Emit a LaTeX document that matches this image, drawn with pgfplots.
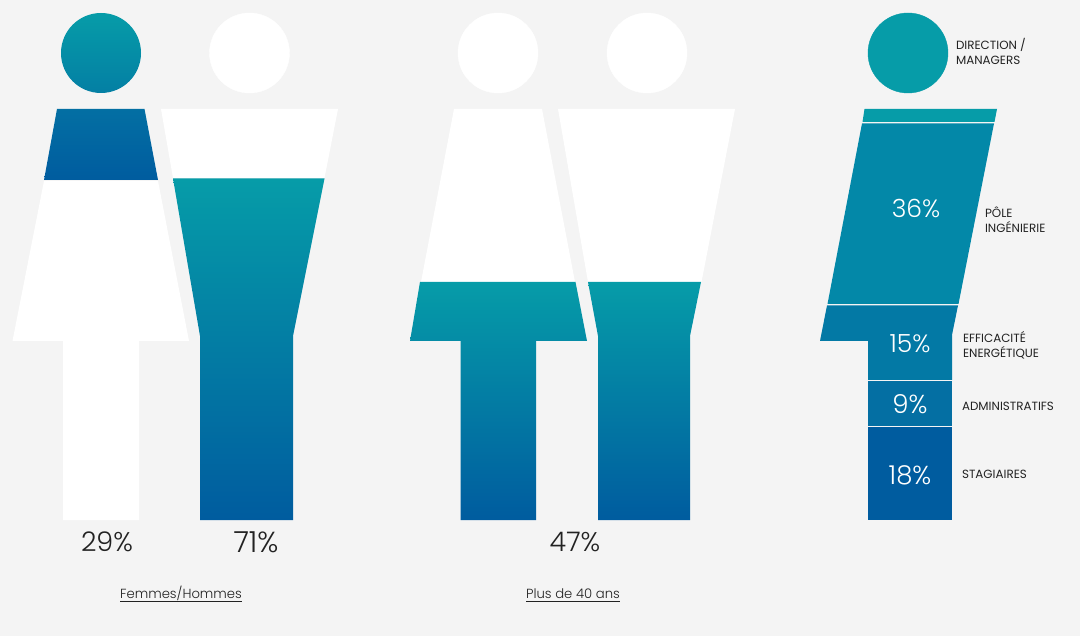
\documentclass[border=0pt]{standalone}
\usepackage{pgfplots}
\pgfplotsset{compat=1.18}
\usepackage{fontspec}
\setmainfont{Poppins}
\newfontfamily\lightf{Poppins Light}
\definecolor{bg}{HTML}{F4F4F4}
\definecolor{tealtop}{HTML}{069CA8}
\definecolor{midhead}{HTML}{047FA4}
\definecolor{midtorso}{HTML}{036FA3}
\definecolor{bluebot}{HTML}{005C9F}
\definecolor{seg2}{HTML}{0388A8}
\definecolor{seg3}{HTML}{0379A5}
\definecolor{seg4}{HTML}{046FA3}
\definecolor{ink}{HTML}{222222}
\pgfdeclareplotmark{headgrad}{%
  \shade[draw=none,top color=tealtop,bottom color=midhead] (0,0) circle (\pgfplotmarksize);%
}
\newcommand{\pct}[4]{\node[text=#4,font=\lightf\fontsize{#3}{#3}\selectfont,anchor=center] at (axis cs:#1) {#2};}
\newcommand{\lab}[2]{\node[text=ink,font=\fontsize{11.9}{14.8}\selectfont,anchor=west,align=left] at (axis cs:#1) {#2};}
\begin{document}
\begin{tikzpicture}
\begin{axis}[
    scale only axis,
    width=1080pt, height=636pt,
    xmin=0, xmax=1080, ymin=0, ymax=636,
    y dir=reverse,
    hide axis,
]
% background
\addplot[draw=none,fill=bg] coordinates {(0,0) (1080,0) (1080,636) (0,636)} -- cycle;

% heads
\addplot[only marks,mark=headgrad,mark size=40pt] coordinates {(101,53)};
\addplot[only marks,mark=*,mark size=40pt,mark options={draw=white,fill=white}] coordinates {(249.5,53) (498,53) (647,53)};
\addplot[only marks,mark=*,mark size=40pt,mark options={draw=tealtop,fill=tealtop}] coordinates {(908,53)};

% femmes
\addplot[draw=none,top color=midtorso,bottom color=bluebot] coordinates {(57,109) (144.5,109) (158,180) (44,180)} -- cycle;
\addplot[draw=none,fill=white] coordinates {(44,181) (158,181) (189,341) (139,341) (139,520) (63,520) (63,341) (12.5,341)} -- cycle;

% hommes
\addplot[draw=none,fill=white] coordinates {(161,109) (338,109) (324.5,178) (173,178)} -- cycle;
\addplot[draw=none,top color=tealtop,bottom color=bluebot] coordinates {(173,178.5) (324.5,178.5) (293,336) (293,520) (200,520) (200,336)} -- cycle;

% plus de 40 ans, femmes
\addplot[draw=none,fill=white] coordinates {(454,109) (542,109) (575,282) (421,282)} -- cycle;
\addplot[draw=none,top color=tealtop,bottom color=bluebot] coordinates {(420,282) (575.5,282) (587,341) (536,341) (536,520) (460.5,520) (460.5,341) (410,341)} -- cycle;

% plus de 40 ans, hommes
\addplot[draw=none,fill=white] coordinates {(558,109) (735,109) (701.5,282) (588,282)} -- cycle;
\addplot[draw=none,top color=tealtop,bottom color=bluebot] coordinates {(588,282) (701,282) (690,336) (690,520) (598,520) (598,336)} -- cycle;

% repartition
\addplot[draw=none,fill=tealtop] coordinates {(864.5,109) (997,109) (994.5,122) (862.5,122)} -- cycle;
\addplot[draw=none,fill=seg2] coordinates {(862,123.5) (994,123.5) (958.5,304) (827.5,304)} -- cycle;
\addplot[draw=none,fill=seg3] coordinates {(827,305.5) (958,305.5) (952,335) (952,380) (868,380) (868,341) (820,341)} -- cycle;
\addplot[draw=none,fill=seg4] coordinates {(868,381.5) (952,381.5) (952,426) (868,426)} -- cycle;
\addplot[draw=none,fill=bluebot] coordinates {(868,427.5) (952,427.5) (952,520) (868,520)} -- cycle;

% valeurs
\pct{107,542}{29\%}{27}{ink}
\pct{256,542}{71\%}{29}{ink}
\pct{575,542}{47\%}{27}{ink}
\pct{911,53}{22\%}{26}{white}
\pct{916,209}{36\%}{25}{white}
\pct{910,344}{15\%}{25}{white}
\pct{910,404}{9\%}{26}{white}
\pct{910,475}{18\%}{26}{white}

% libelles
\lab{952.5,51.5}{DIRECTION /\\MANAGERS}
\lab{981.5,219.5}{PÔLE\\INGÉNIERIE}
\lab{959.5,345.5}{EFFICACITÉ\\ENERGÉTIQUE}
\lab{958.5,406.5}{ADMINISTRATIFS}
\lab{958.5,474.5}{STAGIAIRES}
\node[text=ink,font=\lightf\fontsize{13.2}{16}\selectfont,anchor=base] at (axis cs:181,598) {\underline{\vphantom{/}Femmes/Hommes}};
\node[text=ink,font=\lightf\fontsize{13.2}{16}\selectfont,anchor=base] at (axis cs:573,598) {\underline{\vphantom{/}Plus de 40 ans}};
\end{axis}
\end{tikzpicture}
\end{document}
